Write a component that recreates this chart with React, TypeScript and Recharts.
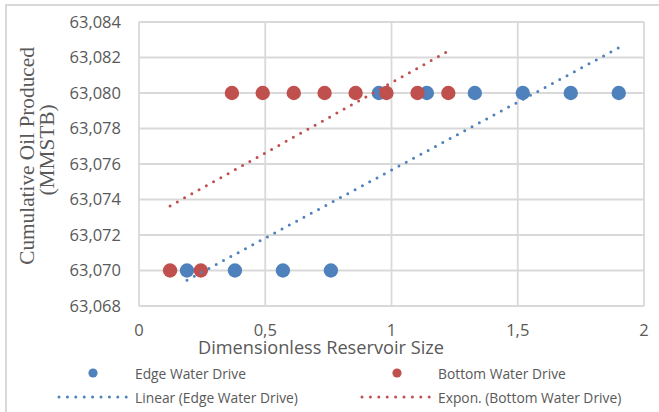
import React from 'react';
import { ScatterChart, Scatter, XAxis, YAxis, CartesianGrid, Label } from 'recharts';

// Dimensionless reservoir size vs. cumulative oil produced (MMSTB)
const edgeSize = [0.19, 0.38, 0.57, 0.76, 0.95, 1.14, 1.33, 1.52, 1.71, 1.9];
const edgeOil = [63070, 63070, 63070, 63070, 63080, 63080, 63080, 63080, 63080, 63080];
const bottomSize = [0.123, 0.245, 0.368, 0.49, 0.613, 0.735, 0.858, 0.98, 1.103, 1.225];
const bottomOil = [63070, 63070, 63080, 63080, 63080, 63080, 63080, 63080, 63080, 63080];

const xTicks = [0, 0.5, 1, 1.5, 2];
const yTicks = [63068, 63070, 63072, 63074, 63076, 63078, 63080, 63082, 63084];

const BLUE = '#4F81BD';
const RED = '#C0504D';
const TEXT = '#595959';
const GRID = '#d9d9d9';
const SANS = '"Open Sans", sans-serif';

type Pt = { x: number; y: number };

const toPoints = (xs: number[], ys: number[]): Pt[] => xs.map((x, i) => ({ x, y: ys[i] }));

// least-squares fit of ys on xs: returns [intercept, slope]
function leastSquares(xs: number[], ys: number[]): [number, number] {
  const n = xs.length;
  const mx = xs.reduce((s, v) => s + v, 0) / n;
  const my = ys.reduce((s, v) => s + v, 0) / n;
  let sxy = 0;
  let sxx = 0;
  for (let i = 0; i < n; i++) {
    sxy += (xs[i] - mx) * (ys[i] - my);
    sxx += (xs[i] - mx) * (xs[i] - mx);
  }
  const b = sxy / sxx;
  return [my - b * mx, b];
}

function linearTrend(xs: number[], ys: number[]): Pt[] {
  const [a, b] = leastSquares(xs, ys);
  return xs.map((x) => ({ x, y: a + b * x }));
}

function exponentialTrend(xs: number[], ys: number[]): Pt[] {
  const [a, b] = leastSquares(xs, ys.map((v) => Math.log(v)));
  return xs.map((x) => ({ x, y: Math.exp(a + b * x) }));
}

const edgeData = toPoints(edgeSize, edgeOil);
const bottomData = toPoints(bottomSize, bottomOil);
const edgeTrend = linearTrend(edgeSize, edgeOil);
const bottomTrend = exponentialTrend(bottomSize, bottomOil);

const fmtComma = (v: number) => String(v).replace('.', ',');
const fmtThousands = (v: number) => {
  const s = String(Math.round(v));
  return s.slice(0, s.length - 3) + ',' + s.slice(s.length - 3);
};

const Dot = (props: any) => {
  const { cx, cy, fill } = props;
  if (cx == null || cy == null) return <g />;
  return <circle cx={cx} cy={cy} r={7.2} fill={fill} />;
};

const NoDot = () => <g />;

const dotted = (color: string) => ({
  stroke: color,
  strokeWidth: 3,
  strokeDasharray: '0 8.3',
  strokeLinecap: 'round' as const,
  fill: 'none',
});

const YTitle = () => (
  <g fill={TEXT} fontFamily='"Liberation Serif", "Times New Roman", serif' fontSize={21.3}>
    <text x={27} y={156} transform="rotate(-90 27 156)" textAnchor="middle" dominantBaseline="central">
      Cumulative Oil Produced
    </text>
    <text x={47} y={150} transform="rotate(-90 47 150)" textAnchor="middle" dominantBaseline="central">
      (MMSTB)
    </text>
  </g>
);

const XTitle = () => (
  <text x={321} y={347} textAnchor="middle" dominantBaseline="central" fill={TEXT} fontFamily={SANS} fontSize={18.2}>
    Dimensionless Reservoir Size
  </text>
);

const legendItems = [
  { label: 'Edge Water Drive', color: BLUE, kind: 'dot', x: 93, tx: 135, y: 373 },
  { label: 'Bottom Water Drive', color: RED, kind: 'dot', x: 397, tx: 438, y: 373 },
  { label: 'Linear (Edge Water Drive)', color: BLUE, kind: 'line', x: 59, x2: 128, tx: 135, y: 397 },
  { label: 'Expon. (Bottom Water Drive)', color: RED, kind: 'line', x: 362, x2: 430, tx: 438, y: 397 },
];

const ChartLegend = () => (
  <svg width={659} height={412} style={{ position: 'absolute', left: 0, top: 0, pointerEvents: 'none' }}>
    {legendItems.map((it) => (
      <g key={it.label}>
        {it.kind === 'dot' ? (
          <circle cx={it.x} cy={it.y} r={4.6} fill={it.color} />
        ) : (
          <line x1={it.x} y1={it.y} x2={it.x2} y2={it.y} {...dotted(it.color)} strokeDasharray="0 8.4" />
        )}
        <text x={it.tx} y={it.y} dominantBaseline="central" fill={TEXT} fontFamily={SANS} fontSize={13.8}>
          {it.label}
        </text>
      </g>
    ))}
  </svg>
);

export default function App() {
  return (
    <div style={{ position: 'absolute', left: 0, top: 0, width: 659, height: 412, background: '#fff' }}>
      <ScatterChart width={659} height={412} margin={{ top: 22, right: 15, bottom: 0, left: 0 }}>
        <rect x={6} y={5} width={700} height={450} fill="none" stroke={GRID} strokeWidth={2} />
        <CartesianGrid stroke={GRID} strokeWidth={1.8} />
        <XAxis
          type="number"
          dataKey="x"
          domain={[0, 2]}
          ticks={xTicks}
          tickFormatter={fmtComma}
          axisLine={false}
          tickLine={false}
          tickSize={0}
          tickMargin={18}
          height={106}
          tick={{ fill: TEXT, fontFamily: SANS, fontSize: 16.5 }}
          interval={0}
        >
          <Label content={<XTitle />} />
        </XAxis>
        <YAxis
          type="number"
          dataKey="y"
          domain={[63068, 63084]}
          ticks={yTicks}
          tickFormatter={fmtThousands}
          axisLine={false}
          tickLine={false}
          tickSize={0}
          tickMargin={18}
          width={139}
          tick={{ fill: TEXT, fontFamily: SANS, fontSize: 16.5 }}
          interval={0}
        >
          <Label content={<YTitle />} />
        </YAxis>
        <Scatter name="Edge Water Drive" data={edgeData} fill={BLUE} shape={<Dot />} isAnimationActive={false} />
        <Scatter name="Bottom Water Drive" data={bottomData} fill={RED} shape={<Dot />} isAnimationActive={false} />
        <Scatter
          name="Linear (Edge Water Drive)"
          data={edgeTrend}
          fill={BLUE}
          line={dotted(BLUE)}
          shape={<NoDot />}
          isAnimationActive={false}
        />
        <Scatter
          name="Expon. (Bottom Water Drive)"
          data={bottomTrend}
          fill={RED}
          line={dotted(RED)}
          shape={<NoDot />}
          isAnimationActive={false}
        />
      </ScatterChart>
      <ChartLegend />
    </div>
  );
}
